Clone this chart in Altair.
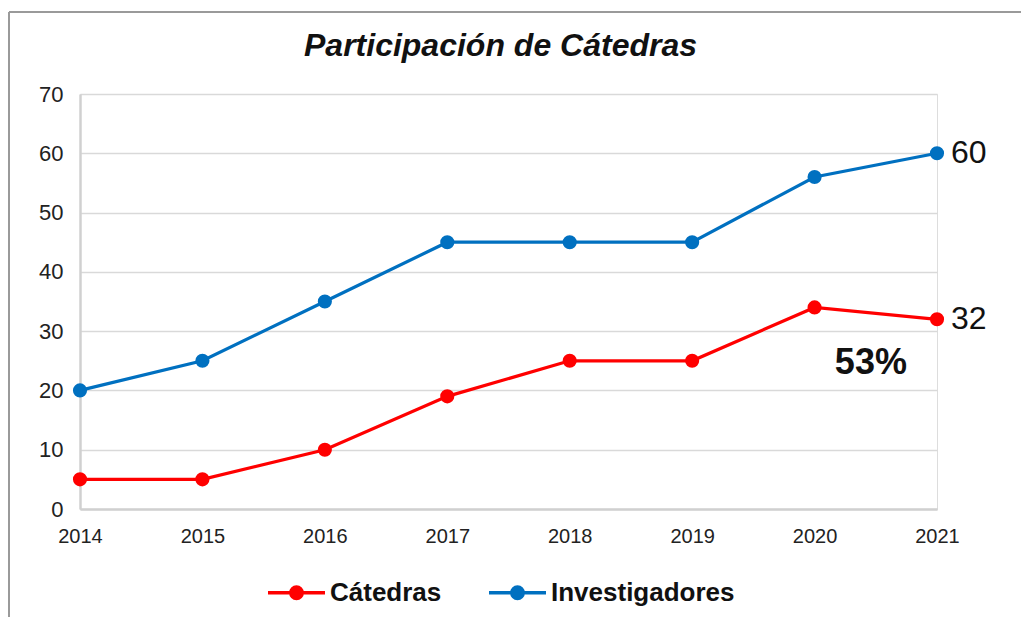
import altair as alt
import pandas as pd

years = [2014, 2015, 2016, 2017, 2018, 2019, 2020, 2021]
catedras = [5, 5, 10, 19, 25, 25, 34, 32]
investigadores = [20, 25, 35, 45, 45, 45, 56, 60]
series_names = ["Cátedras", "Investigadores"]
series_colors = ["#FF0000", "#0070C0"]
y_ticks = [0, 10, 20, 30, 40, 50, 60, 70]

end_labels = ["60", "32"]
end_values = [60, 32]
note_text = ["53%"]
note_x = [2020.46]
note_y = [24.6]

rows = []
for yr, v in zip(years, catedras):
    rows.append({"year": yr, "value": v, "serie": series_names[0]})
for yr, v in zip(years, investigadores):
    rows.append({"year": yr, "value": v, "serie": series_names[1]})
df = pd.DataFrame(rows)

end_df = pd.DataFrame({"year": [years[-1]] * 2, "value": end_values, "label": end_labels})
note_df = pd.DataFrame({"year": note_x, "value": note_y, "label": note_text})

FONT = "Liberation Sans"

x_enc = alt.X("year:Q",
              scale=alt.Scale(domain=[years[0], years[-1]], nice=False, zero=False),
              axis=alt.Axis(values=years, format="d", title=None, ticks=False,
                            grid=False, labelFontSize=20, labelPadding=17,
                            labelFlush=False, labelBound=False, labelOverlap=False,
                            domainColor="#d0d0d0", domainWidth=2.5,
                            labelColor="#222222", labelFont=FONT))
y_enc = alt.Y("value:Q",
              scale=alt.Scale(domain=[0, 70], nice=False),
              axis=alt.Axis(values=y_ticks, title=None, ticks=False,
                            labelFontSize=22, labelPadding=17,
                            gridColor="#d9d9d9", gridWidth=1.5,
                            domainColor="#d0d0d0", domainWidth=2.5,
                            labelColor="#222222", labelFont=FONT))
color_enc = alt.Color("serie:N",
                      scale=alt.Scale(domain=series_names, range=series_colors),
                      legend=alt.Legend(title=None, orient="none", direction="horizontal",
                                        legendX=186, legendY=468,
                                        labelFontSize=26, labelFontWeight="bold",
                                        labelFont=FONT, labelColor="#111111",
                                        labelLimit=400,
                                        symbolType="M-1,0L1,0M-0.2,0A0.2,0.2,0,1,0,0.2,0A0.2,0.2,0,1,0,-0.2,0Z",
                                        symbolSize=3249, symbolStrokeWidth=3.5,
                                        labelOffset=3, columnPadding=40))

base = alt.Chart(df)
lines = base.mark_line(strokeWidth=3.2).encode(x=x_enc, y=y_enc, color=color_enc)
points = base.mark_circle(size=200, opacity=1).encode(x=x_enc, y=y_enc, color=color_enc)

ends = alt.Chart(end_df).mark_text(align="left", baseline="middle", dx=14, fontSize=32,
                                   font=FONT, color="#111111").encode(
    x="year:Q", y="value:Q", text="label:N")
note = alt.Chart(note_df).mark_text(align="center", baseline="middle", fontSize=36,
                                    fontWeight="bold", font=FONT, color="#111111").encode(
    x="year:Q", y="value:Q", text="label:N")

# outer frame of the original image (top and left edges only)
frame_top = alt.Chart(pd.DataFrame({"k": [0]})).mark_rule(color="#9a9a9a", strokeWidth=2).encode(
    x=alt.value(-71), x2=alt.value(960), y=alt.value(-82))
frame_left = alt.Chart(pd.DataFrame({"k": [0]})).mark_rule(color="#9a9a9a", strokeWidth=2).encode(
    x=alt.value(-71), y=alt.value(-82), y2=alt.value(540))

chart = alt.layer(frame_top, frame_left, lines, points, ends, note).properties(
    width=857, height=415,
    title=alt.TitleParams("Participación de Cátedras", fontSize=32, fontStyle="italic",
                          fontWeight="bold", font=FONT, anchor="middle", offset=-52,
                          dx=-8, color="#111111"),
    autosize=alt.AutoSizeParams(type="none"),
    padding={"left": 72, "top": 86, "right": 84, "bottom": 108},
).configure_view(stroke=None).configure(background="white")

chart.save("out.html", embed_options={"renderer": "svg", "actions": False})
